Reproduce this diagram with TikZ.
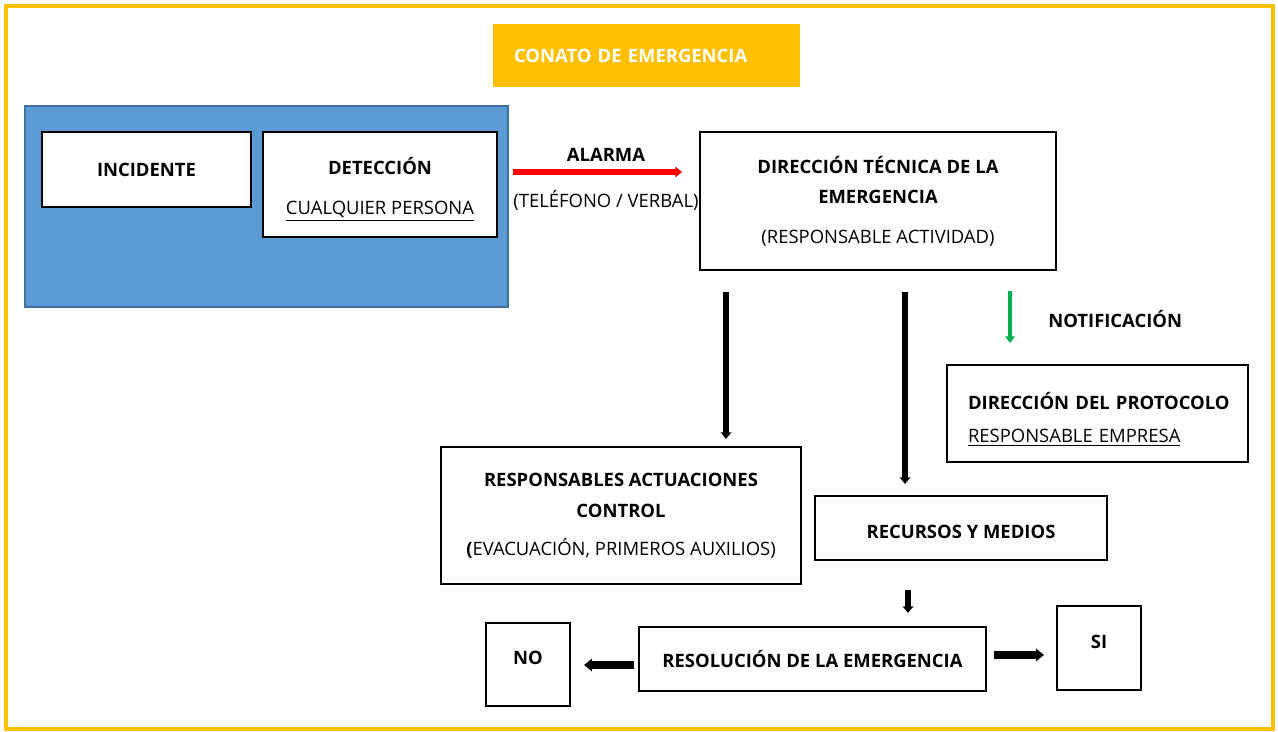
\documentclass[tikz,border=0pt]{standalone}
\usepackage{fontspec}
\setmainfont{Open Sans}
\usepackage{tikz}
\usetikzlibrary{arrows.meta, positioning}
\usepackage{xcolor}
\definecolor{conato}{HTML}{FFC000}
\definecolor{panelblue}{HTML}{5B9BD5}
\definecolor{panelborder}{HTML}{41719C}
\definecolor{alarmred}{HTML}{FF0000}
\definecolor{notigreen}{HTML}{00B050}

\begin{document}
\begin{tikzpicture}[
    x=0.02cm, y=-0.02cm,
    font=\fontsize{10.5}{17}\selectfont,
    box/.style={rectangle, draw, line width=1.2pt, fill=white, align=center, inner sep=0pt},
    header/.style={rectangle, fill=conato, text=white, font=\fontsize{10.5}{17}\selectfont\bfseries, text width=5.3cm, inner xsep=0.42cm, minimum height=1.26cm, align=left},
    panel/.style={rectangle, draw=panelborder, line width=1.2pt, fill=panelblue, minimum width=9.66cm, minimum height=4.02cm},
    blackarrow/.style={-{Triangle[length=3.8pt,width=6pt]}, line width=3.2pt},
    widearrow/.style={-{Triangle[length=4.5pt,width=7pt]}, line width=4pt},
    redarrow/.style={-{Triangle[length=3.8pt,width=6pt]}, line width=3.2pt, alarmred},
    greenarrow/.style={-{Triangle[length=3.8pt,width=5.5pt]}, line width=2.8pt, notigreen},
    flowlabel/.style={text=black}
]
    \useasboundingbox (0,0) rectangle (1278,731);
    % Frame and title
    \draw[conato, line width=2.8pt] (6,6) rectangle (1273,729);
    \node[header] (title) at (646.5,55.5) {CONATO DE EMERGENCIA};

    % Detection panel
    \node[panel] (panel) at (266.5,206.5) {};
    \node[box, minimum width=4.18cm, minimum height=1.5cm] (inc) at (146.5,169.5) {\textbf{INCIDENTE}};
    \node[box, minimum width=4.68cm, minimum height=2.1cm] (det) at (380,184.5)
        {\rule{0pt}{15.5pt}\textbf{DETECCIÓN}\\[5.7pt]\underline{CUALQUIER PERSONA}};

    % Boxes
    \node[box, minimum width=7.12cm, minimum height=2.76cm] (dte) at (878,201)
        {\textbf{DIRECCIÓN TÉCNICA DE LA}\\\textbf{EMERGENCIA}\\[5.7pt](RESPONSABLE ACTIVIDAD)};
    \node[box, text width=5.6cm, inner xsep=0.21cm, minimum height=1.94cm, align=left] (ddp) at (1097.5,413.5)
        {\rule{0pt}{16.5pt}\hspace*{0.21cm}\textbf{DIRECCIÓN DEL PROTOCOLO}\\[1.7pt]\hspace*{0.21cm}\underline{RESPONSABLE EMPRESA}};
    \node[box, minimum width=7.2cm, minimum height=2.74cm] (rac) at (621,515.5)
        {\textbf{RESPONSABLES ACTUACIONES}\\[0.6pt]\textbf{CONTROL}\\[4.4pt]\textbf{(}EVACUACIÓN, PRIMEROS AUXILIOS)};
    \node[box, minimum width=5.84cm, minimum height=1.28cm, text height=11.5pt] (rec) at (961,528) {\textbf{RECURSOS Y MEDIOS}};
    \node[box, minimum width=6.94cm, minimum height=1.28cm] (res) at (812.5,659) {\textbf{RESOLUCIÓN DE LA EMERGENCIA}};
    \node[box, minimum width=1.68cm, minimum height=1.66cm, text depth=7.4pt] (no) at (528,664.5) {\textbf{NO}};
    \node[box, minimum width=1.68cm, minimum height=1.68cm, text depth=7.4pt] (si) at (1099,648) {\textbf{SI}};

    % Arrow starts
    \coordinate (alarm) at (513,172);
    \coordinate (act) at (726,292);
    \coordinate (med) at (905,292);
    \coordinate (noti) at (1010,291);
    \coordinate (resol) at (908,590);

    % Flows
    \draw[redarrow, shorten >=0.34cm] (alarm) -- node[flowlabel, above=1pt] {\textbf{ALARMA}}
        node[flowlabel, below=0.2cm] {(TELÉFONO / VERBAL)} (alarm -| dte.west);
    \draw[blackarrow, shorten >=0.14cm] (act) -- (act |- rac.north);
    \draw[blackarrow, shorten >=0.22cm] (med) -- (med |- rec.north);
    \draw[greenarrow, shorten >=0.42cm] (noti) -- node[flowlabel, right=0.6cm, pos=0.39] {\textbf{NOTIFICACIÓN}} (noti |- ddp.north);
    \draw[blackarrow, shorten >=0.26cm] (resol) -- (resol |- res.north);
    \draw[widearrow, shorten <=0.08cm, shorten >=0.26cm] ([yshift=-0.12cm]res.west) -- ([yshift=-0.12cm]res.west -| no.east);
    \draw[widearrow, shorten <=0.14cm, shorten >=0.24cm] ([yshift=0.08cm]res.east) -- ([yshift=0.08cm]res.east -| si.west);
\end{tikzpicture}
\end{document}
